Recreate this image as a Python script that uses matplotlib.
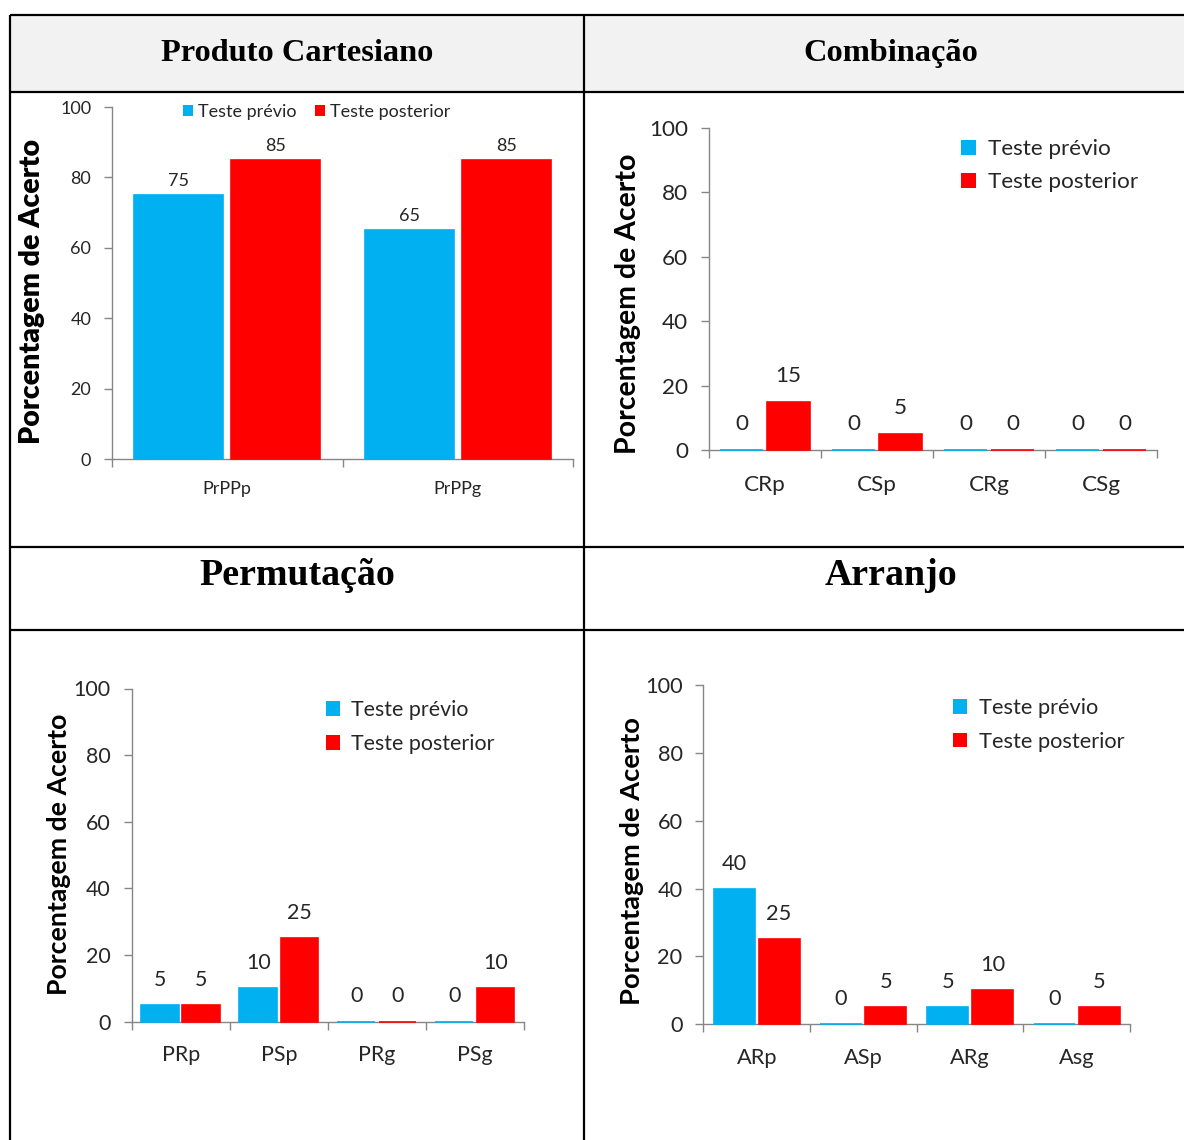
import numpy as np
import matplotlib
matplotlib.use("Agg")
import matplotlib.pyplot as plt
from matplotlib.patches import Patch, Rectangle

W, H = 1184, 1140
BLUE = "#00b0f0"
RED = "#ff0000"
AXIS = "#868686"
TXT = "#262626"
SERIES = ["Teste prévio", "Teste posterior"]
YLABEL = "Porcentagem de Acerto"

# ── data ────────────────────────────────────────────────────────────────────
pc_cats = ["PrPPp", "PrPPg"]
pc_prev = [75, 65]
pc_post = [85, 85]

comb_cats = ["CRp", "CSp", "CRg", "CSg"]
comb_prev = [0, 0, 0, 0]
comb_post = [15, 5, 0, 0]

perm_cats = ["PRp", "PSp", "PRg", "PSg"]
perm_prev = [5, 10, 0, 0]
perm_post = [5, 25, 0, 10]

arr_cats = ["ARp", "ASp", "ARg", "Asg"]
arr_prev = [40, 0, 5, 0]
arr_post = [25, 5, 10, 5]

plt.rcParams["font.family"] = ["Lato", "DejaVu Sans"]

fig = plt.figure(figsize=(W / 100, H / 100), dpi=100)


def px_rect(x0, y0, x1, y1):
    return [x0 / W, 1 - y1 / H, (x1 - x0) / W, (y1 - y0) / H]


def px_pt(x, y):
    return (x / W, 1 - y / H)


# ── table frame ─────────────────────────────────────────────────────────────
grid = fig.add_axes([0, 0, 1, 1])
grid.set_xlim(0, W)
grid.set_ylim(H, 0)
grid.axis("off")
grid.add_patch(Rectangle((10, 15), W - 10, 77, facecolor="#f2f2f2", edgecolor="none"))
for y in (15, 92, 547, 630):
    grid.plot([10, W], [y, y], color="black", lw=1.6, solid_capstyle="butt")
for x in (10, 584):
    grid.plot([x, x], [15, H], color="black", lw=1.6, solid_capstyle="butt")

serif = dict(family="Liberation Serif", fontweight="bold", color="black",
             ha="center", va="baseline")
grid.text(297, 61, "Produto Cartesiano", fontsize=23.3, **serif)
grid.text(891, 61, "Combinação", fontsize=23.3, **serif)
grid.text(297, 585, "Permutação", fontsize=27.3, **serif)
grid.text(891, 585, "Arranjo", fontsize=27.3, **serif)


def bar_chart(rect, cats, prev, post, fs, ylab, ylab_fs, ylab_w, label_off,
              xpad, leg):
    x0, y0, x1, y1 = rect
    ax = fig.add_axes(px_rect(*rect))
    ax.set_facecolor("none")
    x = np.arange(len(cats))
    w, off = 0.385, 0.21
    kw = dict(lw=1.2, zorder=3, clip_on=False)
    b1 = ax.bar(x - off, prev, w, color=BLUE, edgecolor=BLUE, **kw)
    b2 = ax.bar(x + off, post, w, color=RED, edgecolor=RED, **kw)
    for bars, vals in ((b1, prev), (b2, post)):
        for b, v in zip(bars, vals):
            ax.annotate(f"{v}", (b.get_x() + b.get_width() / 2, v),
                        xytext=(0, label_off), textcoords="offset pixels",
                        ha="center", va="center", fontsize=fs, color=TXT)
    ax.set_xlim(-0.5, len(cats) - 0.5)
    ax.set_ylim(0, 100)
    ax.set_yticks(range(0, 101, 20))
    ax.set_xticks(x, cats)
    ax.set_xticks(np.arange(len(cats) + 1) - 0.5, minor=True)
    ax.tick_params(axis="x", which="major", length=0, pad=xpad)
    ax.tick_params(axis="x", which="minor", length=6, color=AXIS, width=1)
    ax.tick_params(axis="y", length=6, color=AXIS, width=1, pad=9)
    for lab in ax.get_xticklabels() + ax.get_yticklabels():
        lab.set_fontsize(fs)
        lab.set_color(TXT)
    for s in ("top", "right"):
        ax.spines[s].set_visible(False)
    for s in ("left", "bottom"):
        ax.spines[s].set_color(AXIS)
        ax.spines[s].set_linewidth(1)

    lx, ly = ylab
    ax.set_ylabel(YLABEL, fontsize=ylab_fs, fontweight=ylab_w, color="black",
                  va="center")
    ax.yaxis.set_label_coords((lx - x0) / (x1 - x0), (y1 - ly) / (y1 - y0))

    handles = [Patch(facecolor=BLUE), Patch(facecolor=RED)]
    anchor, ncol, spacing, colsp, hsize, hpad = leg
    lg = ax.legend(handles, SERIES, loc="upper left", bbox_to_anchor=px_pt(*anchor),
                   bbox_transform=fig.transFigure, ncol=ncol, frameon=False,
                   borderpad=0, borderaxespad=0, handlelength=hsize,
                   handleheight=hsize, handletextpad=hpad, labelspacing=spacing,
                   columnspacing=colsp, prop=dict(size=fs))
    for t in lg.get_texts():
        t.set_color(TXT)
    return ax


bar_chart((112, 107, 573, 459), pc_cats, pc_prev, pc_post, 13,
          (32, 291), 20.5, "heavy", 14, 16, ((183, 104), 2, 0.5, 1.0, 0.55, 0.3))
bar_chart((709, 128, 1157, 450), comb_cats, comb_prev, comb_post, 16.2,
          (628, 304), 20.5, "bold", 26, 18, ((961, 139), 1, 0.6, 1.0, 0.65, 0.54))
bar_chart((131.7, 688.5, 524, 1021.5), perm_cats, perm_prev, perm_post, 15.4,
          (59, 854), 19.2, "bold", 25, 17, ((326, 700), 1, 0.65, 1.0, 0.65, 0.54))
bar_chart((703.4, 685.4, 1130, 1024), arr_cats, arr_prev, arr_post, 15.7,
          (632, 861), 19.7, "bold", 25, 17.5, ((953, 698), 1, 0.62, 1.0, 0.65, 0.54))

fig.savefig("out.png", dpi=100)
